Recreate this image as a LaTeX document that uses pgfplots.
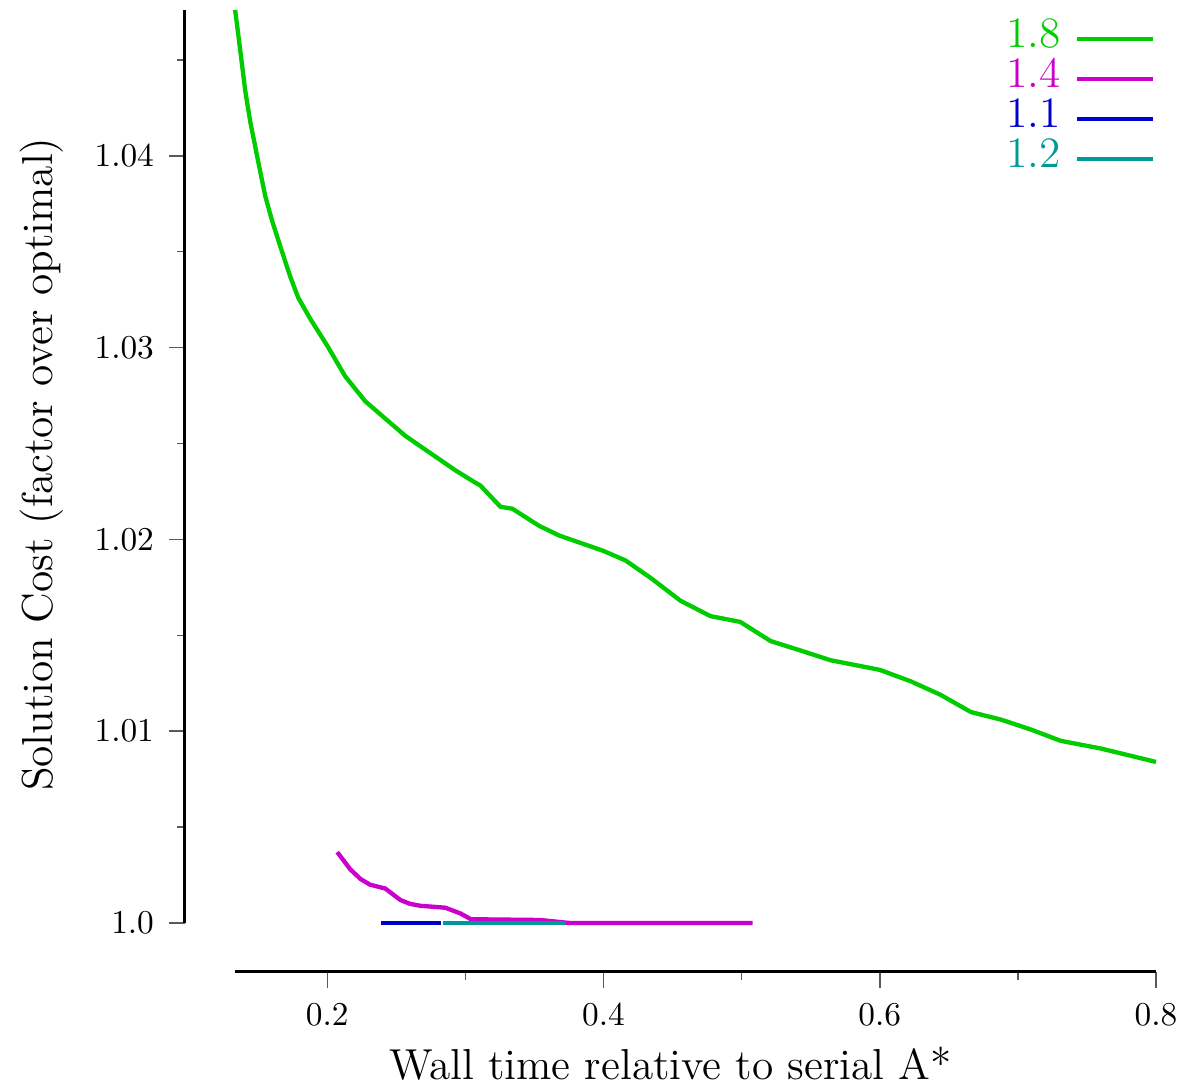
\documentclass[border=0pt]{standalone}
\usepackage{pgfplots}
\pgfplotsset{compat=1.18}
\usepackage{pgfplotstable}

\definecolor{cGreen}{RGB}{0,204,0}
\definecolor{cMag}{RGB}{204,0,204}
\definecolor{cBlue}{RGB}{0,0,204}
\definecolor{cTeal}{RGB}{0,153,153}

% weight 1.8
\pgfplotstableread{
x y
0.1333 1.0476
0.1370 1.0455
0.1406 1.0434
0.1442 1.0418
0.1500 1.0397
0.1551 1.0379
0.1601 1.0366
0.1659 1.0353
0.1732 1.0337
0.1790 1.0326
0.1877 1.0315
0.2000 1.0301
0.2130 1.0285
0.2275 1.0272
0.2420 1.0263
0.2565 1.0254
0.2746 1.0245
0.2928 1.0236
0.3040 1.0231
0.3110 1.0228
0.3254 1.0217
0.3340 1.0216
0.3536 1.0207
0.3680 1.0202
0.4000 1.0194
0.4160 1.0189
0.4340 1.0180
0.4558 1.0168
0.4775 1.0160
0.4990 1.0157
0.5210 1.0147
0.5430 1.0142
0.5645 1.0137
0.6000 1.0132
0.6225 1.0126
0.6440 1.0119
0.6660 1.0110
0.6880 1.0106
0.7090 1.0101
0.7310 1.0095
0.7600 1.0091
0.8000 1.0084
}\wGreen

% weight 1.4
\pgfplotstableread{
x y
0.2072 1.0037
0.2167 1.0028
0.2240 1.0023
0.2310 1.0020
0.2420 1.0018
0.2530 1.0012
0.2600 1.0010
0.2674 1.0009
0.2855 1.0008
0.2964 1.0005
0.3040 1.0002
0.3540 1.00016
0.3760 1.0000
0.5080 1.0000
}\wMag

% weight 1.1
\pgfplotstableread{
x y
0.2391 1.0
0.2820 1.0
}\wBlue

% weight 1.2
\pgfplotstableread{
x y
0.2841 1.0
0.3725 1.0
}\wTeal

\begin{document}
\begin{tikzpicture}
\begin{axis}[
  scale only axis,
  width=291.3pt, height=288.6pt,
  xmin=0.097, xmax=0.8,
  ymin=0.99745, ymax=1.0476,
  axis x line*=bottom, axis y line*=left,
  x axis line style={draw=none},
  y axis line style={draw=none},
  xtick={0.2,0.4,0.6,0.8},
  xticklabels={0.2,0.4,0.6,0.8},
  minor xtick={0.3,0.5,0.7},
  ytick={1.0,1.01,1.02,1.03,1.04},
  yticklabels={1.0,1.01,1.02,1.03,1.04},
  minor ytick={1.005,1.015,1.025,1.035,1.045},
  tick align=outside,
  major tick length=4.8pt,
  minor tick length=2.4pt,
  every tick/.style={black!65, line width=0.45pt},
  tick label style={font=\fontsize{10}{12}\selectfont},
  xticklabel style={yshift=-1pt},
  yticklabel style={xshift=-1pt},
  xlabel={Wall time relative to serial A*},
  ylabel={Solution Cost (factor over optimal)},
  label style={font=\fontsize{13}{15}\selectfont},
  xlabel style={yshift=0.8pt},
  ylabel style={yshift=2.5pt, xshift=8pt},
  clip=false,
  legend plot pos=right,
  legend cell align=right,
  legend style={draw=none, fill=none, at={(rel axis cs:1,0.9915)}, anchor=north east,
    inner sep=0pt, row sep=0pt, font=\fontsize{13}{15}\selectfont,
    nodes={inner sep=0pt, text height=8.6pt, text depth=3.4pt}},
  legend image code/.code={\draw[#1, line width=1.2pt] (0cm,0cm) -- (0.8cm,0cm);},
]
\addplot[cGreen, line width=1.3pt] table[x=x,y=y] {\wGreen};
\addlegendentry{\textcolor{cGreen}{1.8}\kern4.5pt}
\addplot[cMag, line width=1.3pt] table[x=x,y=y] {\wMag};
\addlegendentry{\textcolor{cMag}{1.4}\kern4.5pt}
\addplot[cBlue, line width=1.3pt] table[x=x,y=y] {\wBlue};
\addlegendentry{\textcolor{cBlue}{1.1}\kern4.5pt}
\addplot[cTeal, line width=1.3pt] table[x=x,y=y] {\wTeal};
\addlegendentry{\textcolor{cTeal}{1.2}\kern4.5pt}
% range-frame axis lines
\draw[black, line width=0.9pt] (axis cs:0.1333,0.99745) -- (axis cs:0.8,0.99745);
\draw[black, line width=0.9pt] (axis cs:0.097,1.0) -- (axis cs:0.097,1.0476);
\end{axis}
\pgfresetboundingbox
\path (current axis.south west) ++(-55.5pt,-33.9pt) rectangle ++(354.6pt,325.5pt);
\end{tikzpicture}
\end{document}
